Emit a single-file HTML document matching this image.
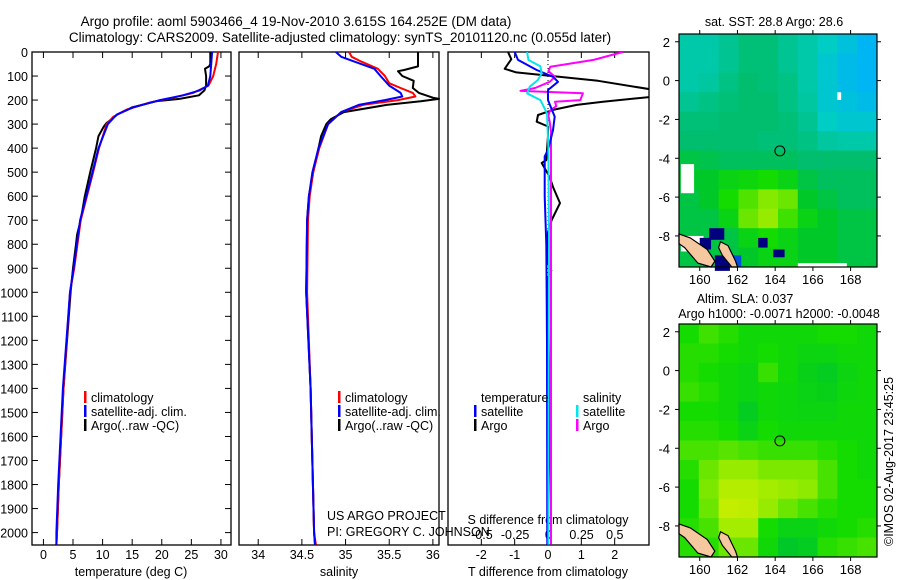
<!DOCTYPE html>
<html><head><meta charset="utf-8"><style>
html,body{margin:0;padding:0;background:#fff;}
svg{display:block;font-family:"Liberation Sans",sans-serif;}
text{font-size:12.5px;fill:#000;}
</style></head><body>
<svg id="chart" width="900" height="580" viewBox="0 0 900 580" xmlns="http://www.w3.org/2000/svg">
<text x="296" y="26" text-anchor="middle" style="font-size:13.5px">Argo profile: aoml 5903466_4 19-Nov-2010 3.615S 164.252E (DM data)</text>
<text x="340" y="42" text-anchor="middle" style="font-size:13.5px">Climatology: CARS2009. Satellite-adjusted climatology: synTS_20101120.nc (0.055d later)</text>
<text transform="translate(893,546) rotate(-90)" style="font-size:12.5px">©IMOS 02-Aug-2017 23:45:25</text>
</svg>
<script>
// ---------- data ----------
const depthTicks=[0,100,200,300,400,500,600,700,800,900,1000,1100,1200,1300,1400,1500,1600,1700,1800,1900,2000];
const tempTicks=[0,5,10,15,20,25,30];
const salTicks=[34,34.5,35,35.5,36];
const tdiffTicks=[-2,-1,0,1,2];
const sdiffTicks=[-0.5,-0.25,0,0.25,0.5];
const sdiffTickLabels=["-0.5","-0.25","0","0.25","0.5"];

const tArgoDepth=[0,50,60,70,100,140,160,180,195,205,230,260,280,295,310,350,400,500,600,700,760,800,900,1000,1400,1800,2000,2050];
const tArgoVal=[28.2,28.2,28.0,27.3,27.5,27.5,27.2,26.3,23,19,15,12.5,11.5,10.7,10.2,9.3,8.9,7.9,7.0,6.3,5.7,5.5,5.0,4.6,3.4,2.6,2.3,2.2];
const tClimDepth=[0,50,100,140,170,190,210,240,270,300,400,500,700,900,1000,1400,1800,2000,2050];
const tClimVal=[29.5,29.2,28.7,27.9,25.3,21.9,18,14,11.8,10.7,9.4,8.4,6.3,5.2,4.5,3.4,2.6,2.3,2.2];
const tSatDepth=[0,100,140,160,180,200,230,260,300,400,500,700,900,1000,1400,1800,2000,2050];
const tSatVal=[28.5,28.2,27.8,26.4,23.6,19.7,15.2,12.4,10.9,9.3,8.3,6.2,5.1,4.5,3.3,2.5,2.2,2.2];

const sArgoDepth=[0,60,75,80,100,120,150,170,190,195,205,220,250,280,300,350,400,500,600,700,1000,1400,2000,2050];
const sArgoVal=[35.83,35.83,35.67,35.6,35.65,35.78,35.77,35.84,36.0,36.07,35.86,35.47,34.98,34.83,34.78,34.72,34.69,34.63,34.58,34.56,34.55,34.6,34.64,34.65];
const sClimDepth=[0,20,40,70,100,130,150,170,185,200,220,250,300,400,500,600,700,1000,1400,2000,2050];
const sClimVal=[35.04,35.07,35.18,35.37,35.45,35.5,35.63,35.77,35.8,35.6,35.2,34.95,34.8,34.7,34.63,34.59,34.57,34.56,34.6,34.64,34.66];
const sSatDepth=[0,20,40,70,100,140,170,185,200,220,250,300,400,500,600,700,1000,1400,2000,2050];
const sSatVal=[34.89,34.95,35.1,35.33,35.4,35.5,35.63,35.65,35.45,35.15,34.95,34.8,34.69,34.62,34.58,34.56,34.55,34.6,34.64,34.65];

const tdArgoDepth=[0,30,70,85,120,158,185,207,220,241,262,290,310,350,450,462,520,562,629,699,750,880,910,940,1000,1500,2050];
const tdArgoVal=[-1.2,-1.1,-1.3,-0.95,1.5,3.2,3.2,1.65,0.86,0.15,-0.3,-0.34,0,0,-0.05,-0.19,0.05,0.15,0.36,0.11,0,0,0.1,0,0,0.05,0];
const tdSatDepth=[0,33,75,103,124,158,200,269,325,408,435,600,800,1200,2050];
const tdSatVal=[-1.0,-0.9,-0.34,0.15,0.3,0,0,0.2,0.15,0,-0.1,-0.1,-0.05,-0.03,-0.02];
const sdSatDepth=[0,33,60,90,117,144,172,200,255,400,800,1500,2050];
const sdSatVal=[-0.16,-0.15,-0.06,-0.05,-0.08,-0.14,-0.16,-0.06,-0.01,0,0.005,0.002,0];
const sdArgoDepth=[0,33,61,80,103,124,150,162,172,200,207,225,245,265,290,330,500,800,1200,2050];
const sdArgoVal=[0.56,0.34,0.015,0,0.05,0.01,-0.1,-0.21,0.26,0.24,0.05,0.06,0.01,0,0.01,0.02,0.02,0.02,0.02,0.02];

const lonTicks=[160,162,164,166,168];
const latTicks=[2,0,-2,-4,-6,-8];
const argoLon=164.25, argoLat=-3.62;
const sstGrid=[
[0.3,0.3,0.35,0.4,0.4,0.35,0.3,0.25,0.15,0.05],
[0.3,0.3,0.35,0.4,0.4,0.35,0.3,0.2,0.1,0.05],
[0.3,0.32,0.38,0.42,0.4,0.38,0.3,0.2,0.1,0.05],
[0.35,0.38,0.4,0.42,0.42,0.38,0.32,0.2,0.15,0.1],
[0.4,0.4,0.42,0.42,0.42,0.4,0.35,0.25,0.2,0.2],
[0.42,0.42,0.42,0.42,0.4,0.4,0.38,0.32,0.3,0.3],
[0.5,0.48,0.45,0.45,0.45,0.45,0.42,0.42,0.42,0.42],
[0.55,0.55,0.6,0.62,0.65,0.6,0.5,0.45,0.45,0.45],
[0.5,0.55,0.65,0.72,0.78,0.75,0.55,0.5,0.45,0.45],
[0.5,0.5,0.6,0.75,0.8,0.7,0.6,0.55,0.5,0.5],
[0.5,0.5,0.5,0.6,0.65,0.6,0.55,0.55,0.5,0.5],
[0.5,0.5,0.5,0.55,0.6,0.6,0.55,0.55,0.5,0.5]];
const slaGrid=[
[0.6,0.65,0.62,0.58,0.58,0.58,0.58,0.6,0.6,0.58],
[0.62,0.62,0.6,0.58,0.6,0.58,0.56,0.56,0.58,0.58],
[0.62,0.6,0.58,0.56,0.64,0.58,0.54,0.52,0.56,0.58],
[0.64,0.62,0.58,0.56,0.58,0.57,0.55,0.54,0.57,0.58],
[0.6,0.6,0.58,0.52,0.58,0.57,0.56,0.56,0.58,0.58],
[0.62,0.62,0.6,0.55,0.6,0.58,0.58,0.58,0.58,0.58],
[0.66,0.66,0.68,0.66,0.64,0.64,0.64,0.62,0.6,0.58],
[0.62,0.7,0.75,0.75,0.72,0.72,0.72,0.66,0.6,0.58],
[0.6,0.72,0.82,0.82,0.78,0.76,0.74,0.66,0.6,0.6],
[0.6,0.7,0.85,0.84,0.75,0.7,0.66,0.62,0.6,0.6],
[0.62,0.66,0.78,0.78,0.6,0.55,0.55,0.58,0.6,0.62],
[0.62,0.62,0.7,0.7,0.58,0.5,0.52,0.62,0.64,0.66]];

// ---------- helpers ----------
const svg=document.getElementById('chart');
const NS='http://www.w3.org/2000/svg';
function mk(tag,attrs,parent){const e=document.createElementNS(NS,tag);for(const k in attrs)e.setAttribute(k,attrs[k]);(parent||svg).appendChild(e);return e;}
const TOP=52,BOT=545;
const yD=d=>TOP+d*0.2403;
function panel(name,x0,x1,vmin,vmax){return {name,x0,x1,x:v=>x0+(v-vmin)/(vmax-vmin)*(x1-x0)};}
const p1=panel('temperature',32,231,-1.93,31.7);
const p2=panel('salinity',239,439,33.78,36.07);
const p3=panel('t-difference',448,649,-3.0,3.03);
const p3s=panel('s-difference',448,649,-0.755,0.757);

[p1,p2,p3].forEach(p=>{
  const r=mk('rect',{x:p.x0,y:TOP,width:p.x1-p.x0,height:BOT-TOP,fill:'none',stroke:'#000','stroke-width':1.3});
  
  
});
depthTicks.forEach(d=>{
  const t=mk('text',{x:28,y:yD(d)+5,'text-anchor':'end'});t.textContent=d;
  
  
  mk('line',{x1:p1.x0,x2:p1.x0+6,y1:yD(d),y2:yD(d),stroke:'#000'});
  mk('line',{x1:p1.x1-6,x2:p1.x1,y1:yD(d),y2:yD(d),stroke:'#000'});
});
function xAxis(p,ticks,labels,ly,withTicks){
  ticks.forEach((v,i)=>{
    const x=p.x(v);
    if(withTicks){
      mk('line',{x1:x,x2:x,y1:BOT,y2:BOT-6,stroke:'#000'});
      mk('line',{x1:x,x2:x,y1:TOP,y2:TOP+6,stroke:'#000'});
    }
    const t=mk('text',{x:x,y:ly,'text-anchor':'middle'});t.textContent=labels?labels[i]:v;
    
    
  });
}
xAxis(p1,tempTicks,null,559,true);
xAxis(p2,salTicks,null,559,true);
xAxis(p3,tdiffTicks,null,559,true);
xAxis(p3s,sdiffTicks,sdiffTickLabels,539,false);
function title(txt,x,y,name){const t=mk('text',{x,y,'text-anchor':'middle'});t.textContent=txt;
  
  }
title('temperature (deg C)',131,576,'temperature-axis-title');
title('salinity',339,576,'salinity-axis-title');
title('T difference from climatology',548,576,'t-difference-axis-title');
title('S difference from climatology',548,524,'s-difference-axis-title');
const zl=mk('line',{x1:p3.x(0),x2:p3.x(0),y1:TOP,y2:BOT,stroke:'#000','stroke-dasharray':'1,3'});



const clip=mk('clipPath',{id:'c3'});mk('rect',{x:p3.x0,y:TOP,width:p3.x1-p3.x0,height:BOT-TOP},clip);
function line(p,ds,vs,color,name,clipped){
  const pts=ds.map((d,i)=>p.x(vs[i]).toFixed(1)+','+yD(d).toFixed(1)).join(' ');
  const l=mk('polyline',{points:pts,fill:'none',stroke:color,'stroke-width':2,'stroke-linejoin':'round'});
  if(clipped)l.setAttribute('clip-path','url(#c3)');
  
  
}
line(p1,tArgoDepth,tArgoVal,'#000','temperature-argo-line');
line(p1,tClimDepth,tClimVal,'#f00','temperature-climatology-line');
line(p1,tSatDepth,tSatVal,'#0000ff','temperature-satellite-line');
line(p2,sArgoDepth,sArgoVal,'#000','salinity-argo-line');
line(p2,sClimDepth,sClimVal,'#f00','salinity-climatology-line');
line(p2,sSatDepth,sSatVal,'#0000ff','salinity-satellite-line');
line(p3,tdArgoDepth,tdArgoVal,'#000','t-diff-argo-line',true);
line(p3s,sdArgoDepth,sdArgoVal,'#ff00ff','s-diff-argo-line',true);
line(p3,tdSatDepth,tdSatVal,'#0000ff','t-diff-satellite-line',true);
line(p3s,sdSatDepth,sdSatVal,'#00e5ee','s-diff-satellite-line',true);

function legend(x,y,color,txt,name){
  if(color){const m=mk('rect',{x:x-7,y:y-11,width:2.5,height:12,fill:color});
    
    }
  const t=mk('text',{x:x,y:y});t.textContent=txt;
  
  
}
legend(91,402,'#f00','climatology','legend-temp-climatology');
legend(91,416,'#0000ff','satellite-adj. clim.','legend-temp-satellite');
legend(91,430,'#000','Argo(..raw -QC)','legend-temp-argo');
legend(345,402,'#f00','climatology','legend-sal-climatology');
legend(345,416,'#0000ff','satellite-adj. clim.','legend-sal-satellite');
legend(345,430,'#000','Argo(..raw -QC)','legend-sal-argo');
legend(481,402,null,'temperature','legend-tdiff-header');
legend(481,416,'#0000ff','satellite','legend-tdiff-satellite');
legend(481,430,'#000','Argo','legend-tdiff-argo');
legend(583,402,null,'salinity','legend-sdiff-header');
legend(583,416,'#00e5ee','satellite','legend-sdiff-satellite');
legend(583,430,'#ff00ff','Argo','legend-sdiff-argo');
legend(327,520,null,'US ARGO PROJECT','project-credit');
legend(327,536,null,'PI: GREGORY C. JOHNSON','pi-credit');

// ---------- maps ----------
const stops=[[0,[0,175,255]],[0.25,[0,205,195]],[0.42,[0,190,110]],[0.55,[0,200,40]],[0.65,[20,220,0]],[0.8,[150,235,0]],[1,[240,240,0]]];
function cmap(v){v=Math.min(1,Math.max(0,v));for(let i=1;i<stops.length;i++){if(v<=stops[i][0]){const a=stops[i-1],b=stops[i],f=(v-a[0])/(b[0]-a[0]);
  return 'rgb('+a[1].map((c,j)=>Math.round(c+(b[1][j]-c)*f)).join(',')+')';}}return 'rgb(240,240,0)';}
function map(top,grid,name,shift){
  const x0=679,x1=877,bot=top+233;
  const lx=lon=>x0+(lon-158.9)/(169.4-158.9)*(x1-x0);
  const ly=lat=>top+(2.4-lat)/(12)*(bot-top);
  const g=mk('g',{});
  
  
  grid.forEach((row,i)=>row.forEach((v,j)=>{
    const la=2.4-i, lo=158.9+j*1.05;
    mk('rect',{x:lx(lo),y:ly(la),width:lx(lo+1.05)-lx(lo)+0.5,height:ly(la-1)-ly(la)+0.5,fill:cmap(v+shift)},g);
  }));
  return {x0,x1,top,bot,lx,ly,g};
}
function mapFrame(m,name){
  const r=mk('rect',{x:m.x0,y:m.top,width:m.x1-m.x0,height:m.bot-m.top,fill:'none',stroke:'#000','stroke-width':1.2});
  
  
  lonTicks.forEach(lo=>{const x=m.lx(lo);
    mk('line',{x1:x,x2:x,y1:m.top,y2:m.top-4,stroke:'#000'});
    mk('line',{x1:x,x2:x,y1:m.bot,y2:m.bot+4,stroke:'#000'});
    const t=mk('text',{x:x,y:m.bot+17,'text-anchor':'middle',style:'font-size:13px'});t.textContent=lo;
    
    });
  latTicks.forEach(la=>{const y=m.ly(la);
    mk('line',{x1:m.x0,x2:m.x0-4,y1:y,y2:y,stroke:'#000'});
    mk('line',{x1:m.x1,x2:m.x1+4,y1:y,y2:y,stroke:'#000'});
    const t=mk('text',{x:m.x0-9,y:y+5,'text-anchor':'end',style:'font-size:13px'});t.textContent=la;
    
    });
  const c=mk('circle',{cx:m.lx(argoLon),cy:m.ly(argoLat),r:5,fill:'none',stroke:'#000','stroke-width':1});
  
  
}
function land(m,sst){
  const g=m.g;
  if(sst){
    [[159,-4.3,0.7,1.5],[159,-8,1.2,0.8],[160.8,-9.2,0.6,0.6],[165.2,-9.4,2.6,0.3],[167.3,-0.6,0.2,0.4]].forEach(b=>mk('rect',{x:m.lx(b[0]),y:m.ly(b[1]),width:m.lx(b[0]+b[2])-m.lx(b[0]),height:m.ly(b[1]-b[3])-m.ly(b[1]),fill:'#fff'},g));
    [[160,-8.1,0.6,0.6],[160.8,-9,0.8,0.8],[163.1,-8.1,0.5,0.5],[163.9,-8.7,0.6,0.4],[160.5,-7.6,0.8,0.6]].forEach(b=>mk('rect',{x:m.lx(b[0]),y:m.ly(b[1]),width:m.lx(b[0]+b[2])-m.lx(b[0]),height:m.ly(b[1]-b[3])-m.ly(b[1]),fill:'#00007f'},g));
    mk('rect',{x:m.lx(161.6),y:m.ly(-9),width:m.lx(162.2)-m.lx(161.6),height:m.ly(-9.6)-m.ly(-9),fill:'#0050dd'},g);
  }
  const isl1=[[158.9,-7.9],[159.5,-8.1],[160.4,-8.7],[160.8,-9.3],[160.6,-9.6],[159.9,-9.4],[159.2,-8.6],[158.9,-8.4]];
  const isl2=[[161.1,-8.3],[161.5,-8.5],[161.9,-9.3],[162.0,-9.6],[161.7,-9.6],[161.2,-9.0],[161.0,-8.6]];
  [isl1,isl2].forEach(p=>mk('polygon',{points:p.map(q=>m.lx(q[0])+','+m.ly(q[1])).join(' '),fill:'#f5c8a0',stroke:'#000','stroke-width':1.2},g));
}
const m1=map(34,sstGrid,'sst-map',0);land(m1,true);mapFrame(m1,'sst-map');
const m2=map(324,slaGrid,'sla-map',0.05);land(m2,false);mapFrame(m2,'sla-map');
title('sat. SST: 28.8 Argo: 28.6',774,26,'sst-map-title');
title('Altim. SLA: 0.037',745,303,'sla-map-title');
title('Argo h1000: -0.0071 h2000: -0.0048',779,318,'sla-map-subtitle');
</script>
</body></html>
